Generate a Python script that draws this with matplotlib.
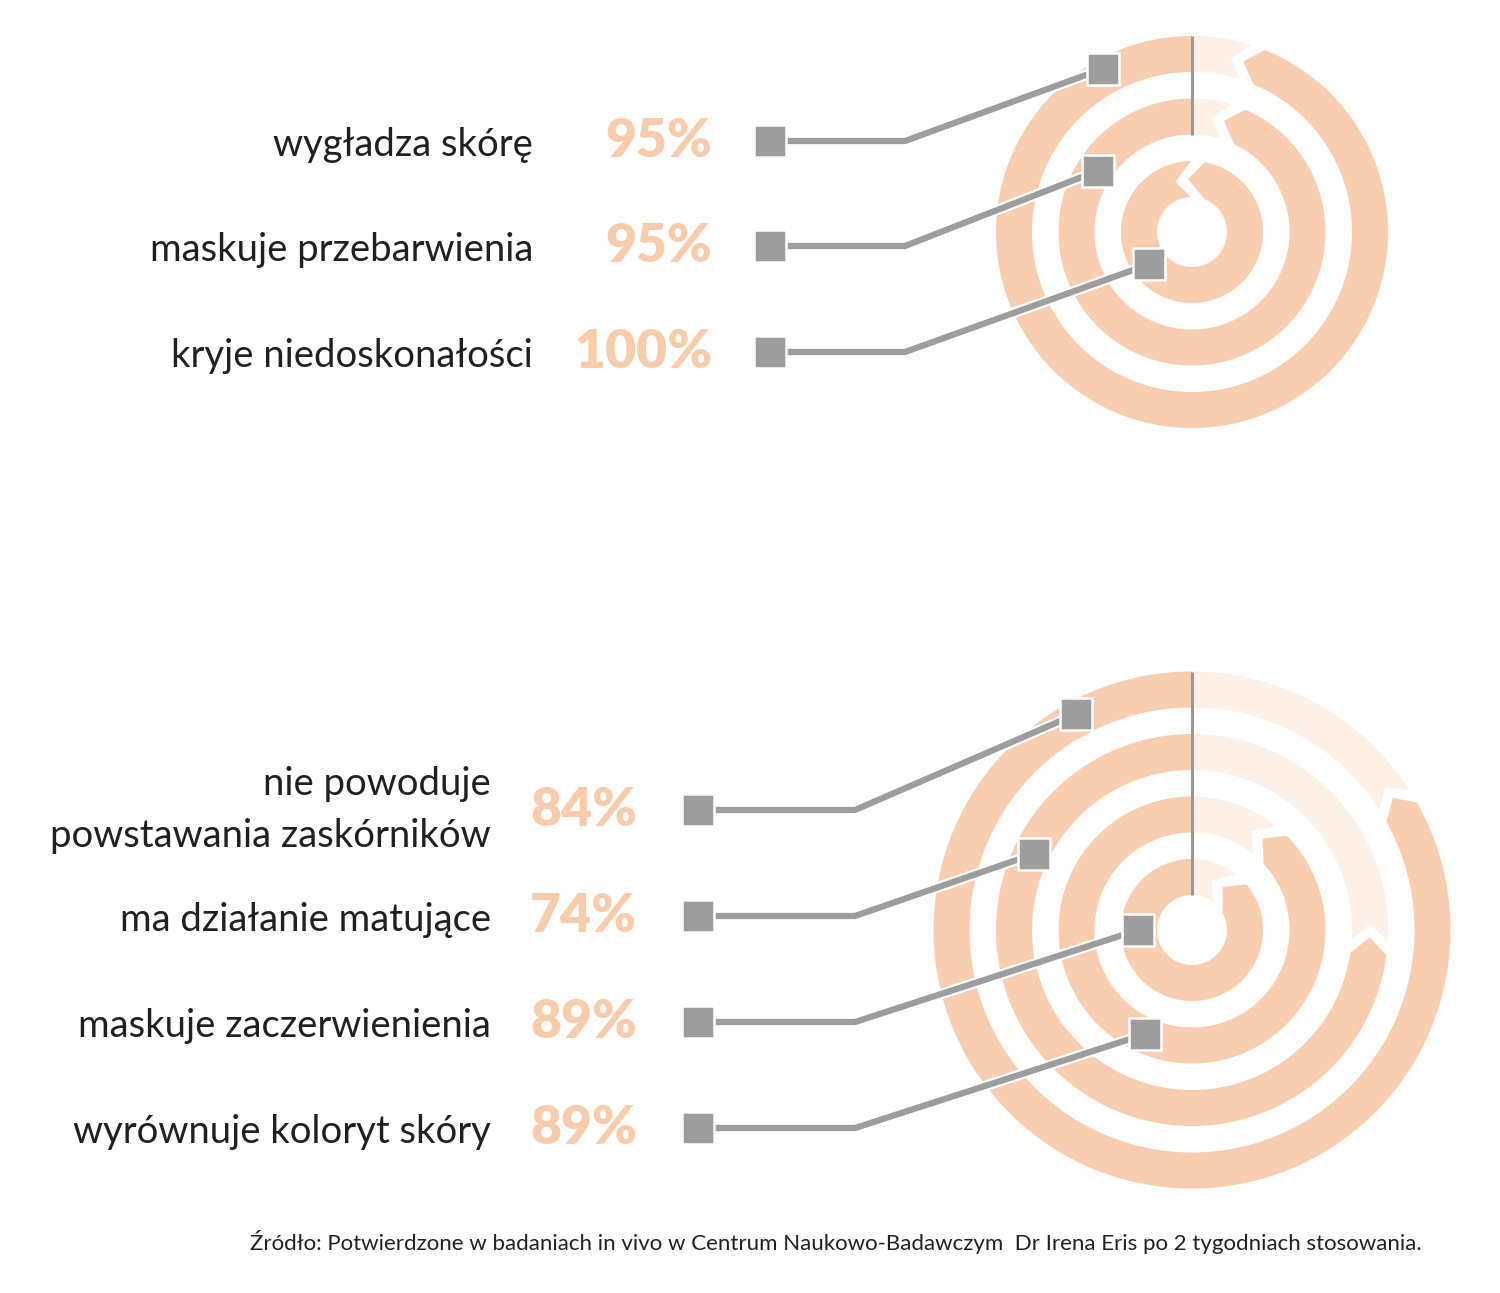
import numpy as np
import matplotlib.pyplot as plt
from matplotlib.patches import Polygon, Rectangle
import matplotlib.patheffects as pe

# ---- data ----
top_labels = ["wygładza skórę", "maskuje przebarwienia", "kryje niedoskonałości"]
top_values = [95, 95, 100]
top_rings = [2, 1, 0]            # ring index counted from the centre

bottom_labels = ["nie powoduje\npowstawania zaskórników", "ma działanie matujące",
                 "maskuje zaczerwienienia", "wyrównuje koloryt skóry"]
bottom_values = [84, 74, 89, 89]
bottom_rings = [3, 2, 0, 1]

source = ("Źródło: Potwierdzone w badaniach in vivo w Centrum Naukowo-Badawczym  "
          "Dr Irena Eris po 2 tygodniach stosowania.")

# ---- layout (pixels) ----
W, H = 1500, 1293
RING_C = "#f8cdb0"
RING_L = "#fdf0e6"
GRAY = "#9d9d9d"
PCT_C = "#f8cbab"
TXT_C = "#231f20"
R0, STEP, RW = 35, 62.5, 36

top_layout = dict(cx=1192, cy=232, rows=[141, 246, 352], lab_x=533, pct_x=712,
                  sq_x=770, elbow_x=905,
                  mk_r=[186, 112, 54], mk_ang=[28.7, 56.7, 126.8])
bot_layout = dict(cx=1192, cy=930, rows=[810, 916, 1022, 1128], lab_x=491, pct_x=637,
                  sq_x=698, elbow_x=855,
                  mk_r=[245, 175, 54, 114], mk_ang=[28.3, 64.2, 90.0, 155.9])

plt.rcParams['font.family'] = ['Lato', 'DejaVu Sans']
fig = plt.figure(figsize=(15, 12.93), dpi=100)
ax = fig.add_axes([0, 0, 1, 1])
ax.set_xlim(0, W)
ax.set_ylim(H, 0)
ax.set_aspect('equal')
ax.axis('off')


def pt(cx, cy, r, phi):
    # phi: degrees clockwise from 12 o'clock
    a = np.radians(phi)
    return cx + r * np.sin(a), cy - r * np.cos(a)


def piece(cx, cy, ri, ro, a0, a1, k0, k1, color):
    # ring segment from a0 to a1 (clockwise); start may be an arrow tip,
    # end may be a notch that takes the tip of the next segment
    rm = (ri + ro) / 2
    d = np.degrees
    if k0 == "tip":
        s_o, s_m, s_i = a0 + d(13 / ro), a0 - d(4 / rm), a0 + d(13 / ri)
    else:
        s_o = s_m = s_i = a0
    if k1 == "notch":
        e_o, e_m, e_i = a1 - d(1 / ro), a1 - d(17 / rm), a1 - d(1 / ri)
    else:
        e_o = e_m = e_i = a1
    outer = np.linspace(s_o, e_o, 200)
    inner = np.linspace(e_i, s_i, 200)
    pts = [pt(cx, cy, ro, p) for p in outer]
    pts.append(pt(cx, cy, rm, e_m))
    pts += [pt(cx, cy, ri, p) for p in inner]
    pts.append(pt(cx, cy, rm, s_m))
    ax.add_patch(Polygon(pts, closed=True, facecolor=color, edgecolor='none', zorder=1))


def chart(labels, values, rings, L):
    cx, cy = L['cx'], L['cy']
    n = len(values)
    # rings
    for v, k in zip(values, rings):
        ri = R0 + STEP * k
        ro = ri + RW
        A = 360 * (1 - v / 100)
        if v >= 100:
            piece(cx, cy, ri, ro, 0, 360, "tip", "notch", RING_C)
        else:
            piece(cx, cy, ri, ro, A, 360, "tip", "flat", RING_C)
            piece(cx, cy, ri, ro, 0, A, "flat", "notch", RING_L)
    # vertical reference line
    part = [k for v, k in zip(values, rings) if v < 100]
    r_top = R0 + STEP * max(rings) + RW
    r_bot = R0 + STEP * min(part)
    ax.plot([cx, cx], [cy - r_top, cy - r_bot], color="#999999", lw=2.2, zorder=2,
            solid_capstyle='butt')
    # connectors, squares, texts
    for i in range(n):
        y = L['rows'][i]
        mx, my = pt(cx, cy, L['mk_r'][i], -L['mk_ang'][i])
        ax.plot([L['sq_x'], L['elbow_x'], mx], [y, y, my], color=GRAY, lw=4.5, zorder=3,
                solid_joinstyle='miter', solid_capstyle='butt',
                path_effects=[pe.Stroke(linewidth=7.7, foreground='white'), pe.Normal()])
        for (sx, sy) in [(L['sq_x'], y), (mx, my)]:
            ax.add_patch(Rectangle((sx - 16, sy - 16), 32, 32, facecolor=GRAY,
                                   edgecolor='white', lw=1.8, zorder=4))
        lines = labels[i].split("\n")
        if len(lines) == 1:
            ax.text(L['lab_x'], y + 15, lines[0], ha='right', va='baseline',
                    fontsize=27.5, color=TXT_C)
        else:
            ax.text(L['lab_x'], y - 15, lines[0], ha='right', va='baseline',
                    fontsize=27.5, color=TXT_C)
            ax.text(L['lab_x'], y + 37, lines[1], ha='right', va='baseline',
                    fontsize=27.5, color=TXT_C)
        ax.text(L['pct_x'], y + 16, f"{values[i]}%", ha='right', va='baseline',
                fontsize=38.5, fontweight='heavy', color=PCT_C)


chart(top_labels, top_values, top_rings, top_layout)
chart(bottom_labels, bottom_values, bottom_rings, bot_layout)

ax.text(1422, 1250, source, ha='right', va='baseline', fontsize=16,
        fontweight='normal', color=TXT_C)

fig.savefig("out.png", dpi=100, facecolor='white')
